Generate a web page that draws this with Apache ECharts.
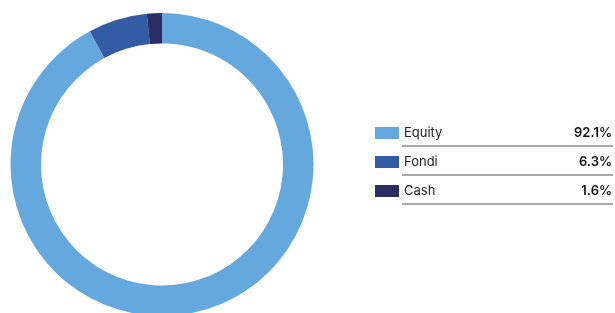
<!DOCTYPE html>
<html><head><meta charset="utf-8">
<script src="https://cdn.jsdelivr.net/npm/echarts@6/dist/echarts.min.js"></script>
<style>html,body{margin:0;padding:0;background:#fff}#c{width:615px;height:313px}</style>
</head><body><div id="c"></div>
<script>
var categories = ['Equity', 'Fondi', 'Cash'];
var values = [92.1, 6.3, 1.6];
var colors = ['#64a8de', '#345ba6', '#2b2c61'];

var chart = echarts.init(document.getElementById('c'), null, {renderer: 'canvas'});
var valMap = {};
categories.forEach(function (c, i) { valMap[c] = values[i]; });

var lines = [146, 175, 204].map(function (y) {
  return {type: 'line', shape: {x1: 402, y1: y, x2: 613, y2: y}, style: {stroke: '#a9a9a9', lineWidth: 2}, silent: true};
});

chart.setOption({
  animation: false,
  color: colors,
  legend: {
    orient: 'vertical', left: 375, top: 126, padding: 0,
    itemWidth: 24, itemHeight: 12, itemGap: 15,
    icon: 'rect', selectedMode: false,
    data: categories,
    formatter: function (name) {
      return '{n|' + name + '}{v|' + valMap[name].toFixed(1) + '%}';
    },
    textStyle: {
      fontFamily: 'Inter, "Liberation Sans", sans-serif',
      rich: {
        n: {width: 90, fontSize: 13, color: '#222', height: 14, lineHeight: 14, fontFamily: 'Inter, "Liberation Sans", sans-serif'},
        v: {width: 118, fontSize: 13, color: '#111', fontWeight: 600, align: 'right', height: 14, lineHeight: 14, fontFamily: 'Inter, "Liberation Sans", sans-serif'}
      }
    }
  },
  graphic: lines,
  series: [{
    type: 'pie',
    center: [162, 164.5],
    radius: [121, 151.5],
    startAngle: 90,
    clockwise: true,
    label: {show: false},
    labelLine: {show: false},
    emphasis: {disabled: true},
    itemStyle: {borderWidth: 0},
    data: categories.map(function (c, i) { return {name: c, value: values[i]}; })
  }]
});
</script></body></html>
